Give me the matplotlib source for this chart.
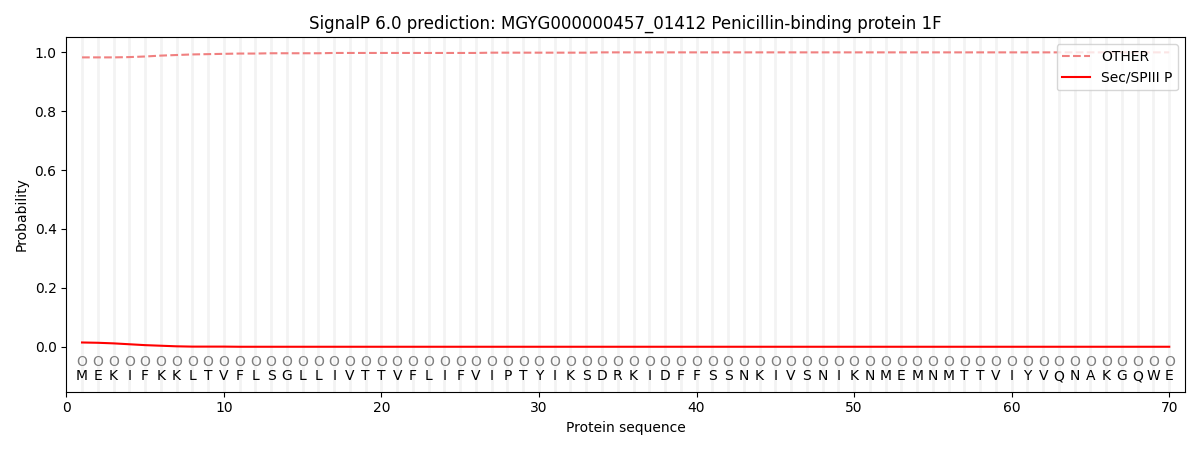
import matplotlib
matplotlib.use("Agg")
import matplotlib.pyplot as plt

# Sequence and per-residue predictions
SEQUENCE = list("MEKIFKKLTVFLSGLLIVTTVFLIFVIPTYIKSDRKIDFFSSNKIVSNIKNMEMNMTTVIYVQNAKGQWE")
LABELS = ["O"] * len(SEQUENCE)

OTHER = [0.982, 0.982, 0.982, 0.983, 0.985, 0.988, 0.990, 0.992, 0.993, 0.994,
         0.995, 0.995, 0.996, 0.996, 0.996, 0.996, 0.997, 0.997, 0.997, 0.997,
         0.997, 0.997, 0.997, 0.997, 0.997, 0.997, 0.998, 0.998, 0.998, 0.998,
         0.998, 0.998, 0.998, 0.999, 0.999, 0.999, 0.999, 0.999, 0.999, 0.999,
         0.999, 0.999, 0.999, 0.999, 0.999, 0.999, 0.999, 0.999, 0.999, 0.999,
         0.999, 0.999, 0.999, 0.999, 0.999, 0.999, 0.999, 0.999, 0.999, 0.999,
         0.999, 0.999, 0.999, 0.999, 0.999, 0.999, 0.999, 0.999, 0.999, 0.999]
SEC_SPIII = [0.015, 0.014, 0.012, 0.009, 0.006, 0.004, 0.002, 0.001, 0.001, 0.001] + [0.0005] * 60

positions = list(range(1, len(SEQUENCE) + 1))

fig, ax = plt.subplots(figsize=(12, 4.5), dpi=100)

for p in positions:
    ax.axvline(p, color="#f3f3f3", linewidth=2, zorder=0)

ax.plot(positions, OTHER, linestyle="--", color="#f08080", label="OTHER")
ax.plot(positions, SEC_SPIII, linestyle="-", color="red", label="Sec/SPIII P")

for p, lab, aa in zip(positions, LABELS, SEQUENCE):
    ax.text(p, -0.05, lab, ha="center", va="center", color="gray", fontsize=10)
    ax.text(p, -0.10, aa, ha="center", va="center", color="black", fontsize=10)

ax.set_xlim(0, 71)
ax.set_ylim(-0.152, 1.05)
ax.set_xlabel("Protein sequence")
ax.set_ylabel("Probability")
ax.set_title("SignalP 6.0 prediction: MGYG000000457_01412 Penicillin-binding protein 1F")
ax.legend(loc="upper right")

plt.tight_layout()
plt.savefig("out.png")
